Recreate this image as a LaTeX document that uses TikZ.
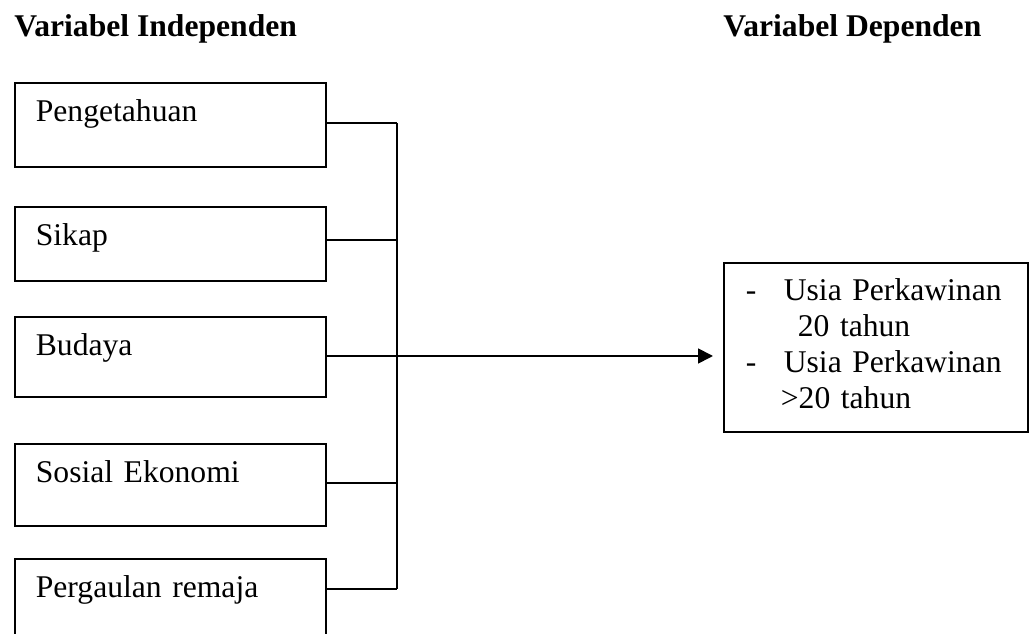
\documentclass[tikz,border=0pt]{standalone}
\usepackage{fontspec}
\setmainfont{Liberation Serif}
\usetikzlibrary{
    arrows.meta,
    positioning
}

\begin{document}
\begin{tikzpicture}[
    x=0.02cm, y=-0.02cm,
    font=\fontsize{18}{20.5}\selectfont,
    varbox/.style={
        rectangle,
        draw=black,
        line width=1pt,
        anchor=north west,
        align=left,
        inner xsep=0.42cm,
        inner ysep=0pt,
        text width=5.38cm,
        text height=0.78cm
    },
    depbox/.style={
        rectangle,
        draw=black,
        line width=1pt,
        anchor=north west,
        align=left,
        inner xsep=0.44cm,
        inner ysep=0pt,
        text width=5.2cm,
        text height=0.76cm,
        text depth=2.62cm
    },
    title/.style={
        anchor=base west,
        font=\fontsize{18}{20.5}\selectfont\bfseries,
        inner sep=0pt
    },
    link/.style={
        line width=1pt,
        draw=black
    },
    arrow/.style={
        -{Triangle[length=0.3cm,width=0.3cm]},
        line width=1pt,
        draw=black,
        shorten >=0.2cm
    }
]
\useasboundingbox (0,0) rectangle (1029,634);

% =========================================================
% Titles
% =========================================================
\node[title] (indeptitle) at (14,37) {Variabel Independen};
\node[title] (deptitle) at (723,37) {Variabel Dependen};

% =========================================================
% Independent variables
% =========================================================
\node[varbox, text depth=0.9cm] (peng) at (14,82) {Pengetahuan};
\node[varbox, text depth=0.7cm] (sikap) at (14,206) {Sikap};
\node[varbox, text depth=0.82cm] (budaya) at (14,316) {Budaya};
\node[varbox, text depth=0.86cm] (sosek) at (14,443) {Sosial Ekonomi};
\node[varbox, text depth=0.9cm] (pergaulan) at (14,558) {Pergaulan remaja};

% =========================================================
% Dependent variable
% =========================================================
\node[depbox] (dep) at (723,262)
{\makebox[0.76cm][l]{-}Usia Perkawinan\\
\hspace*{1.04cm}20 tahun\\
\makebox[0.76cm][l]{-}Usia Perkawinan\\
\hspace*{0.7cm}>20 tahun};

% =========================================================
% Bus line
% =========================================================
\coordinate (bus1) at (397,123);
\coordinate (bus2) at (397,240);
\coordinate (bus3) at (397,356);
\coordinate (bus4) at (397,483);
\coordinate (bus5) at (397,589);

\draw[link] (bus1) -- (bus5);
\draw[link] (peng.east |- bus1) -- (bus1);
\draw[link] (sikap.east |- bus2) -- (bus2);
\draw[link] (budaya.east |- bus3) -- (bus3);
\draw[link] (sosek.east |- bus4) -- (bus4);
\draw[link] (pergaulan.east |- bus5) -- (bus5);

% =========================================================
% Main arrow
% =========================================================
\draw[arrow] (bus3) -- (dep.west |- bus3);

\end{tikzpicture}
\end{document}
